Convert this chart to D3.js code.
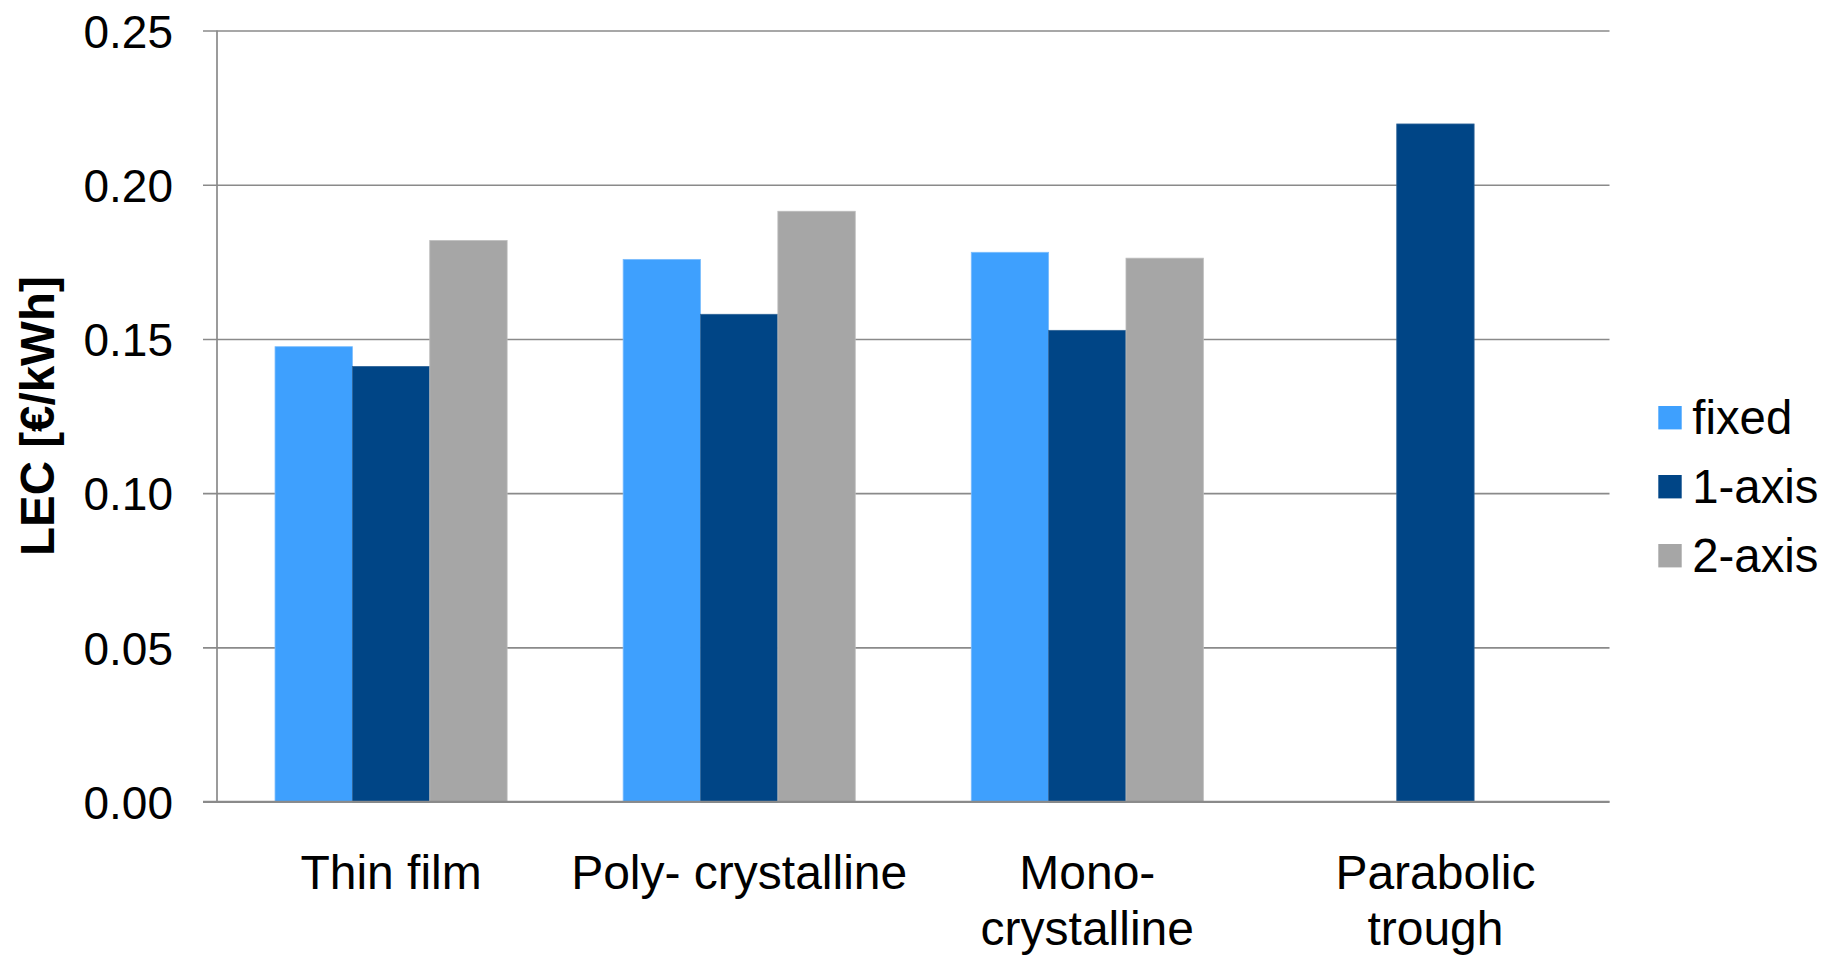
<!DOCTYPE html>
<html>
<head>
<meta charset="utf-8">
<script src="https://cdn.jsdelivr.net/npm/d3@7"></script>
<style>
  html, body { margin: 0; padding: 0; background: #fff; }
  svg { display: block; }
  text { font-family: "Liberation Sans", Arial, sans-serif; fill: #000; }
</style>
</head>
<body>
<svg id="chart" width="1830" height="955"></svg>
<script>
// ---- data ----
const categories = ["Thin film", "Poly- crystalline", "Mono-\ncrystalline", "Parabolic\ntrough"];
const seriesNames = ["fixed", "1-axis", "2-axis"];
const fixedValues = [0.1475, 0.1758, 0.1781, null];
const oneAxisValues = [0.1411, 0.1580, 0.1528, 0.2197];
const twoAxisValues = [0.1819, 0.1914, 0.1762, null];
const yTicks = [0, 0.05, 0.10, 0.15, 0.20, 0.25];
const yTitle = "LEC [€/kWh]";

const seriesValues = [fixedValues, oneAxisValues, twoAxisValues];
const colors = ["#3ea0fe", "#004586", "#a6a6a6"];
const edgeColors = ["#7cbdfd", "#2f6497", "#bcbcbc"];

// ---- layout ----
const svg = d3.select("#chart");
const plotLeft = 217, plotRight = 1609.5, plotTop = 30.5, plotBottom = 801.7, tickLen = 14;
const fontSize = 46;

const x = d3.scaleBand().domain(categories).range([plotLeft, plotRight])
  .paddingInner(0.3333).paddingOuter(0.1667);
const xs = d3.scaleBand().domain(seriesNames).range([0, x.bandwidth()]);
const y = d3.scaleLinear().domain([0, 0.25]).range([plotBottom, plotTop]);

// gridlines + tick labels in one axis
const gAxis = svg.append("g")
  .attr("transform", `translate(${plotRight},0)`)
  .call(d3.axisLeft(y).tickValues(yTicks).tickFormat(d3.format(".2f"))
    .tickSize(plotRight - plotLeft + tickLen).tickPadding(30));
gAxis.select(".domain").remove();
gAxis.selectAll(".tick line").attr("stroke", "#8a8a8a").attr("stroke-width", 1.7);
gAxis.selectAll(".tick text")
  .attr("font-size", fontSize)
  .attr("font-family", "'Liberation Sans', Arial, sans-serif")
  .attr("fill", "#000")
  .attr("dy", "0.36em");

// bars
const flat = [];
categories.forEach((c, i) => {
  seriesNames.forEach((s, j) => {
    const v = seriesValues[j][i];
    if (v !== null && v !== undefined) flat.push({ c, s, j, v });
  });
});
svg.append("g").selectAll("rect").data(flat).join("rect")
  .attr("x", d => x(d.c) + xs(d.s))
  .attr("y", d => y(d.v))
  .attr("width", xs.bandwidth())
  .attr("height", d => y(0) - y(d.v))
  .attr("fill", d => colors[d.j])
  .attr("stroke", d => edgeColors[d.j])
  .attr("stroke-width", 0.8);

// vertical axis line
svg.append("line")
  .attr("x1", plotLeft).attr("x2", plotLeft).attr("y1", plotTop).attr("y2", plotBottom)
  .attr("stroke", "#8a8a8a").attr("stroke-width", 1.7);
// baseline
svg.append("line")
  .attr("x1", plotLeft - tickLen).attr("x2", plotRight).attr("y1", plotBottom).attr("y2", plotBottom)
  .attr("stroke", "#8a8a8a").attr("stroke-width", 1.7);

// category labels
const gx = svg.append("g")
  .attr("transform", `translate(0,${plotBottom})`)
  .call(d3.axisBottom(x).tickSize(0).tickFormat(""));
gx.select(".domain").remove();
gx.selectAll(".tick").each(function(d) {
  const lines = d.split("\n");
  const t = d3.select(this).append("text")
    .attr("text-anchor", "middle")
    .attr("font-size", 48)
    .attr("fill", "#000");
  lines.forEach((ln, k) => {
    t.append("tspan").attr("x", 0).attr("y", 87.5 + k * 56).text(ln);
  });
});

// y title
svg.append("text")
  .attr("transform", `translate(53.5,${(plotTop + plotBottom) / 2}) rotate(-90)`)
  .attr("text-anchor", "middle")
  .attr("font-size", 47.5)
  .attr("font-weight", "bold")
  .text(yTitle);

// legend
const legendY0 = 417.7, legendStep = 69;
const lg = svg.append("g").selectAll("g").data(seriesNames).join("g")
  .attr("transform", (d, i) => `translate(1658.3,${legendY0 + i * legendStep})`);
lg.append("rect")
  .attr("x", 0).attr("y", -11.7).attr("width", 23.4).attr("height", 23.4)
  .attr("fill", (d, i) => colors[i]);
lg.append("text")
  .attr("x", 34).attr("y", 16.5)
  .attr("font-size", 47.3)
  .text(d => d);
</script>
</body>
</html>
